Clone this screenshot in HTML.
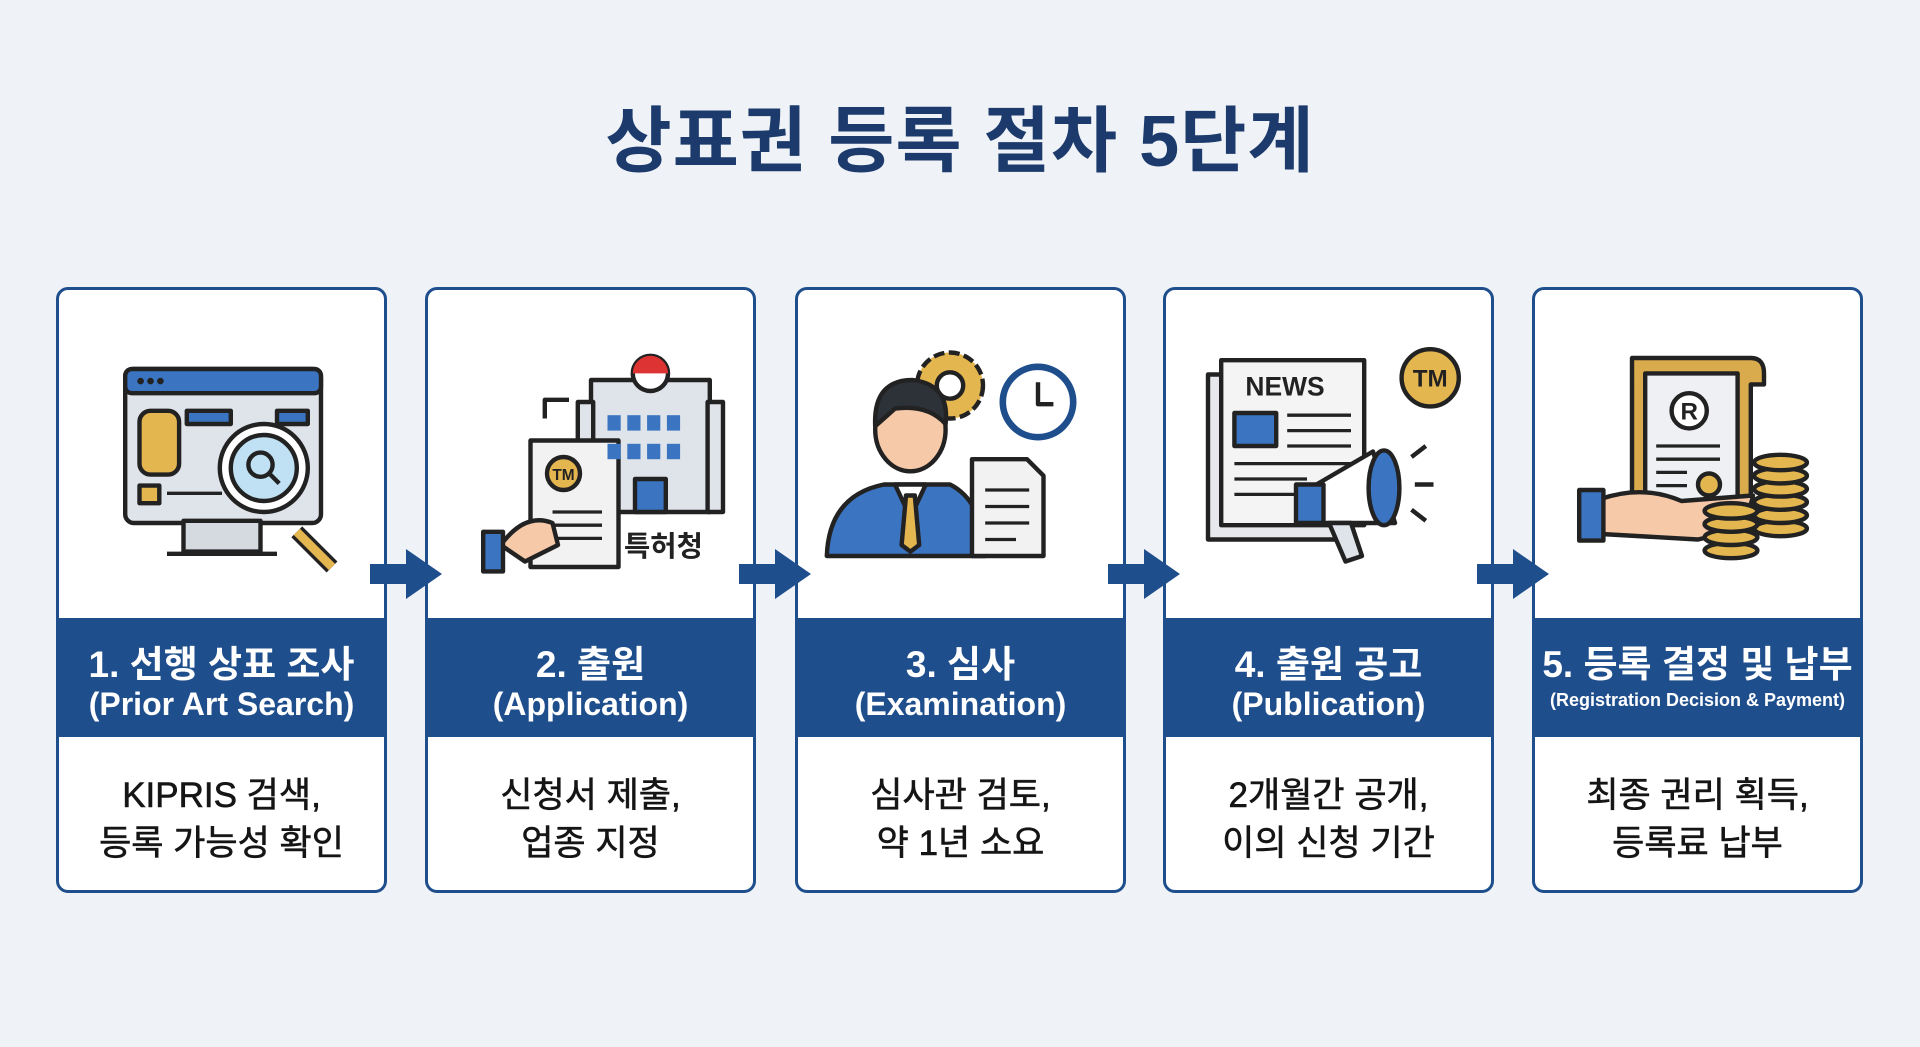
<!DOCTYPE html>
<html><head><meta charset="utf-8">
<style>
html,body{margin:0;padding:0}
body{width:1920px;height:1047px;background:#eff3f7;position:relative;overflow:hidden;font-family:"Liberation Sans","Noto Sans CJK KR",sans-serif}
.title{position:absolute;left:0;width:1920px;top:82px;text-align:center;font-size:72px;font-weight:bold;color:#1c3a6b;letter-spacing:1px}
.card{position:absolute;top:287px;width:325px;height:600px;background:#fff;border:3px solid #1f4e8c;border-radius:12px;overflow:hidden}
.band{position:absolute;left:0;right:0;top:328px;height:119px;background:#1f4e8c;color:#fff;text-align:center;font-weight:bold}
.band .l1{position:absolute;left:0;right:0;top:16px;font-size:37px}
.band .l2{position:absolute;left:0;right:0;top:68px;font-size:32px;font-weight:bold}
.band .s{top:72px;font-size:18px}
.body{position:absolute;left:0;right:0;top:482px;text-align:center;font-size:35px;line-height:48px;color:#151515;-webkit-text-stroke:0.6px #151515}
.icon{position:absolute;left:20px;top:46px}
.arrow{position:absolute;top:549px;width:72px;height:50px}
</style></head><body>
<div class="title">상표권 등록 절차 5단계</div>

<div class="card" style="left:56px">
<svg class="icon" width="286" height="253" viewBox="0 0 260 230">
<g stroke="#222" stroke-width="4" stroke-linejoin="round">
<rect x="42" y="30" width="178" height="140" rx="8" fill="#dfe3ea"/>
<rect x="42" y="30" width="178" height="22" rx="6" fill="#3b74c1"/>
<rect x="95" y="168" width="70" height="28" fill="#d5d9e0"/>
<line x1="80" y1="198" x2="180" y2="198"/>
<rect x="55" y="68" width="36" height="58" rx="10" fill="#e4b64f"/>
<rect x="98" y="68" width="40" height="12" fill="#3b74c1"/>
<rect x="180" y="68" width="28" height="12" fill="#3b74c1"/>
<rect x="55" y="136" width="18" height="16" fill="#e4b64f"/>
<line x1="198" y1="178" x2="230" y2="210" stroke-width="14" stroke="#222"/>
<line x1="198" y1="178" x2="230" y2="210" stroke-width="8" stroke="#e4b64f"/>
<circle cx="168" cy="120" r="40" fill="#fff"/>
<circle cx="168" cy="120" r="30" fill="#bfe1f3"/>
<circle cx="165" cy="117" r="11" fill="none"/>
<line x1="173" y1="125" x2="182" y2="134"/>
</g>
<circle cx="56" cy="41" r="3" fill="#222"/><circle cx="65" cy="41" r="3" fill="#222"/><circle cx="74" cy="41" r="3" fill="#222"/>
<line x1="80" y1="143" x2="130" y2="143" stroke="#222" stroke-width="3"/>
</svg>
<div class="band"><div class="l1">1. 선행 상표 조사</div><div class="l2">(Prior Art Search)</div></div>
<div class="body">KIPRIS 검색,<br>등록 가능성 확인</div>
</div>

<div class="card" style="left:425px">
<svg class="icon" width="286" height="253" viewBox="0 0 260 230">
<g stroke="#222" stroke-width="4" stroke-linejoin="round">
<rect x="130" y="40" width="108" height="120" fill="#dfe3ea"/>
<rect x="118" y="60" width="14" height="100" fill="#dfe3ea"/>
<rect x="236" y="60" width="14" height="100" fill="#dfe3ea"/>
<circle cx="184" cy="34" r="16" fill="#fff"/>
<rect x="170" y="130" width="28" height="30" fill="#3b74c1"/>
<rect x="75" y="95" width="80" height="115" fill="#f2f2f2"/>
<circle cx="105" cy="125" r="15" fill="#e4b64f"/>
<line x1="95" y1="160" x2="140" y2="160" stroke-width="3"/>
<line x1="95" y1="172" x2="140" y2="172" stroke-width="3"/>
<line x1="95" y1="184" x2="140" y2="184" stroke-width="3"/>
<path d="M48 190 Q70 160 95 170 L100 190 L70 205 Z" fill="#f6c9a8"/>
<rect x="32" y="178" width="18" height="36" fill="#3b74c1"/>
<path d="M88 75 V58 H110" fill="none"/>
</g>
<path d="M168 34 a16 16 0 0 1 32 0z" fill="#d33"/>
<g fill="#3b74c1"><rect x="145" y="72" width="12" height="14"/><rect x="163" y="72" width="12" height="14"/><rect x="181" y="72" width="12" height="14"/><rect x="199" y="72" width="12" height="14"/><rect x="145" y="98" width="12" height="14"/><rect x="163" y="98" width="12" height="14"/><rect x="181" y="98" width="12" height="14"/><rect x="199" y="98" width="12" height="14"/></g>
<text x="105" y="131" font-size="14" font-weight="bold" text-anchor="middle" fill="#222" font-family="Liberation Sans">TM</text>
<text x="160" y="200" font-size="26" font-weight="bold" fill="#222" font-family="Liberation Sans,Noto Sans CJK KR,sans-serif">특허청</text>
</svg>
<div class="band"><div class="l1">2. 출원</div><div class="l2">(Application)</div></div>
<div class="body">신청서 제출,<br>업종 지정</div>
</div>

<div class="card" style="left:795px">
<svg class="icon" width="286" height="253" viewBox="0 0 260 230">
<g stroke="#222" stroke-width="4" stroke-linejoin="round">
<circle cx="120" cy="45" r="30" fill="#e4b64f" stroke-dasharray="10 4"/>
<circle cx="120" cy="45" r="12" fill="#fff"/>
<circle cx="200" cy="60" r="32" fill="#fff" stroke="#1f4e8c" stroke-width="6"/>
<path d="M200 42 V62 H214" fill="none"/>
<path d="M8 200 Q10 145 60 135 L120 135 Q150 150 152 200 Z" fill="#3b74c1"/>
<path d="M70 135 L84 165 L98 135 Z" fill="#fff"/>
<path d="M80 145 L88 145 L92 190 L84 196 L76 190 Z" fill="#e4b64f"/>
<ellipse cx="84" cy="85" rx="32" ry="38" fill="#f6c9a8"/>
<path d="M52 82 Q50 40 86 40 Q120 44 116 80 Q100 62 70 66 Z" fill="#2d3138"/>
<path d="M140 112 H190 L205 127 V200 H140 Z" fill="#f2f2f2"/>
<line x1="152" y1="140" x2="192" y2="140" stroke-width="3"/>
<line x1="152" y1="155" x2="192" y2="155" stroke-width="3"/>
<line x1="152" y1="170" x2="192" y2="170" stroke-width="3"/>
<line x1="152" y1="185" x2="180" y2="185" stroke-width="3"/>
</g>
</svg>
<div class="band"><div class="l1">3. 심사</div><div class="l2">(Examination)</div></div>
<div class="body">심사관 검토,<br>약 1년 소요</div>
</div>

<div class="card" style="left:1163px">
<svg class="icon" width="286" height="253" viewBox="0 0 260 230">
<g stroke="#222" stroke-width="4" stroke-linejoin="round">
<rect x="20" y="35" width="130" height="150" fill="#e6e8ec"/>
<rect x="32" y="22" width="130" height="150" fill="#f4f4f4"/>
<rect x="44" y="70" width="38" height="30" fill="#3b74c1"/>
<line x1="92" y1="72" x2="150" y2="72" stroke-width="3"/><line x1="92" y1="86" x2="150" y2="86" stroke-width="3"/><line x1="92" y1="100" x2="150" y2="100" stroke-width="3"/>
<line x1="44" y1="116" x2="150" y2="116" stroke-width="3"/><line x1="44" y1="130" x2="110" y2="130" stroke-width="3"/><line x1="44" y1="144" x2="110" y2="144" stroke-width="3"/>
<circle cx="222" cy="38" r="26" fill="#e4b64f"/>
<path d="M110 140 L170 105 L190 170 L125 170 Z" fill="#fff"/>
<ellipse cx="180" cy="138" rx="14" ry="34" fill="#3b74c1"/>
<rect x="100" y="135" width="25" height="35" fill="#3b74c1"/>
<path d="M130 170 L145 205 L160 200 L150 170 Z" fill="#dfe3ea"/>
<line x1="205" y1="110" x2="218" y2="100"/><line x1="208" y1="135" x2="225" y2="135"/><line x1="205" y1="158" x2="218" y2="168"/>
</g>
<text x="90" y="54" font-size="24" font-weight="bold" text-anchor="middle" fill="#222" font-family="Liberation Sans">NEWS</text>
<text x="222" y="46" font-size="22" font-weight="bold" text-anchor="middle" fill="#222" font-family="Liberation Sans">TM</text>
</svg>
<div class="band"><div class="l1">4. 출원 공고</div><div class="l2">(Publication)</div></div>
<div class="body">2개월간 공개,<br>이의 신청 기간</div>
</div>

<div class="card" style="left:1532px">
<svg class="icon" width="286" height="253" viewBox="0 0 260 230">
<g stroke="#222" stroke-width="4" stroke-linejoin="round">
<path d="M70 20 H178 Q190 20 190 34 V44 H178 V160 H70 Z" fill="#d9ab4c"/>
<rect x="82" y="34" width="84" height="120" fill="#eef0f4"/>
<circle cx="122" cy="68" r="16" fill="#fff"/>
<line x1="92" y1="100" x2="150" y2="100" stroke-width="3"/><line x1="92" y1="112" x2="150" y2="112" stroke-width="3"/><line x1="92" y1="124" x2="120" y2="124" stroke-width="3"/><line x1="92" y1="136" x2="120" y2="136" stroke-width="3"/>
<circle cx="140" cy="135" r="10" fill="#e4b64f"/>
<path d="M42 148 Q80 135 115 150 L180 145 Q175 175 130 185 L42 180 Z" fill="#f6c9a8"/>
<rect x="22" y="140" width="22" height="46" fill="#3b74c1"/>
<g fill="#e4b64f">
<ellipse cx="205" cy="175" rx="24" ry="7"/><ellipse cx="205" cy="163" rx="24" ry="7"/><ellipse cx="205" cy="151" rx="24" ry="7"/><ellipse cx="205" cy="139" rx="24" ry="7"/><ellipse cx="205" cy="127" rx="24" ry="7"/><ellipse cx="205" cy="115" rx="24" ry="7"/>
<ellipse cx="160" cy="195" rx="24" ry="7"/><ellipse cx="160" cy="183" rx="24" ry="7"/><ellipse cx="160" cy="171" rx="24" ry="7"/><ellipse cx="160" cy="159" rx="24" ry="7"/>
</g>
</g>
<text x="122" y="76" font-size="22" font-weight="bold" text-anchor="middle" fill="#222" font-family="Liberation Sans">R</text>
</svg>
<div class="band"><div class="l1">5. 등록 결정 및 납부</div><div class="l2 s">(Registration Decision &amp; Payment)</div></div>
<div class="body">최종 권리 획득,<br>등록료 납부</div>
</div>

<svg class="arrow" style="left:370px" viewBox="0 0 72 50"><path d="M0 15 H36 V0 L72 25 L36 50 V35 H0 Z" fill="#1f4e8c"/></svg>
<svg class="arrow" style="left:739px" viewBox="0 0 72 50"><path d="M0 15 H36 V0 L72 25 L36 50 V35 H0 Z" fill="#1f4e8c"/></svg>
<svg class="arrow" style="left:1108px" viewBox="0 0 72 50"><path d="M0 15 H36 V0 L72 25 L36 50 V35 H0 Z" fill="#1f4e8c"/></svg>
<svg class="arrow" style="left:1477px" viewBox="0 0 72 50"><path d="M0 15 H36 V0 L72 25 L36 50 V35 H0 Z" fill="#1f4e8c"/></svg>
</body></html>
